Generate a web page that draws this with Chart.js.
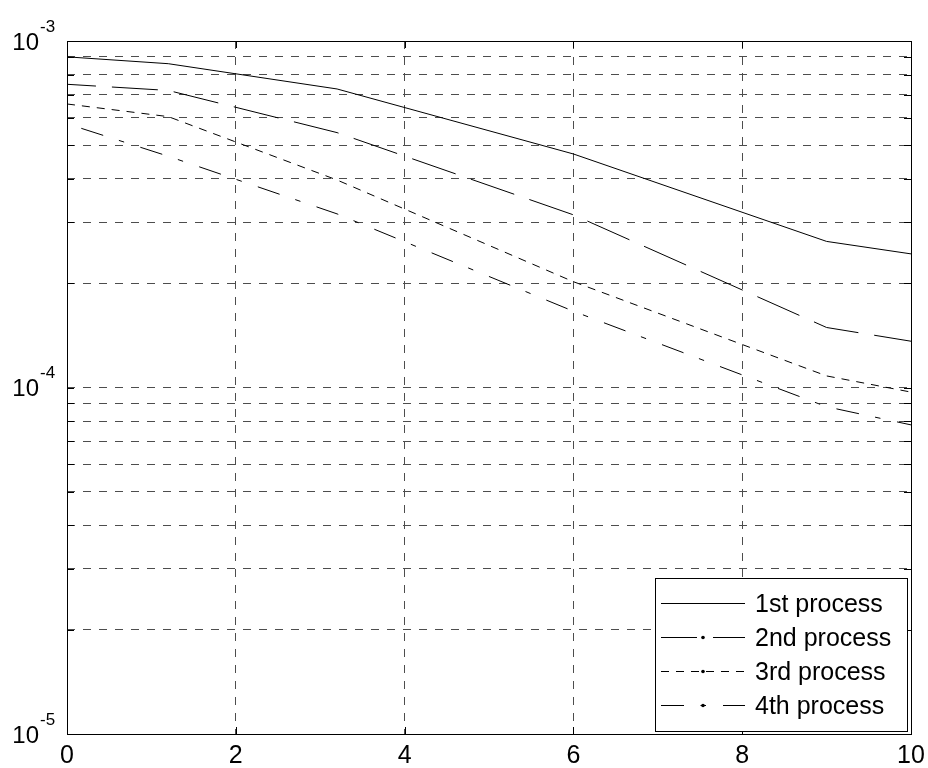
<!DOCTYPE html>
<html>
<head>
<meta charset="utf-8">
<script src="https://cdn.jsdelivr.net/npm/chart.js@4/dist/chart.umd.min.js"></script>
<style>
  html, body { margin: 0; padding: 0; background: #ffffff; }
  canvas { display: block; }
</style>
</head>
<body>
<canvas id="c" width="928" height="768"></canvas>
<script>
// Sample positions along the horizontal axis
const xValues = [0, 1.2, 3.2, 6, 9, 10];

// Error level of each process at those positions
const process1 = [9.0e-4, 8.6e-4, 7.27e-4, 4.72e-4, 2.64e-4, 2.43e-4];
const process2 = [7.5e-4, 7.2e-4, 5.44e-4, 3.15e-4, 1.49e-4, 1.36e-4];
const process3 = [6.58e-4, 6.05e-4, 3.97e-4, 2.02e-4, 1.08e-4, 9.7e-5];
const process4 = [5.77e-4, 4.65e-4, 3.17e-4, 1.66e-4, 8.8e-5, 7.8e-5];

const seriesNames = ['1st process', '2nd process', '3rd process', '4th process'];

// Axis ticks and labels
const xTicks = [0, 2, 4, 6, 8, 10];
const xTickLabels = ['0', '2', '4', '6', '8', '10'];
const yDecades = [-5, -4, -3];
const yTickBase = ['10', '10', '10'];
const yTickExp = ['-5', '-4', '-3'];

// Log grid: 1..9 in every decade, up to the top decade
const yGridValues = [];
for (let d = yDecades[0]; d < yDecades[yDecades.length - 1]; d++) {
  for (let m = 1; m <= 9; m++) yGridValues.push(m * Math.pow(10, d));
}
yGridValues.push(Math.pow(10, yDecades[yDecades.length - 1]));

const FONT = '"Liberation Sans", Arial, Helvetica, sans-serif';

function pts(ys) {
  return xValues.map((x, i) => ({ x: x, y: ys[i] }));
}

// Line style per process; "marker" means a dot in the legend sample
const styles = [
  { dash: [], offset: 0, marker: false },
  { dash: [46, 16], offset: 17, marker: true },
  { dash: [8, 7], offset: 0, marker: true },
  { dash: [23, 16.5, 5.5, 17], offset: 47, marker: true }
];

const datasets = [process1, process2, process3, process4].map((ys, i) => ({
  label: seriesNames[i],
  data: pts(ys),
  borderColor: '#000000',
  backgroundColor: '#000000',
  borderWidth: 1,
  borderDash: styles[i].dash,
  borderDashOffset: styles[i].offset,
  pointRadius: 0,
  tension: 0,
  fill: false
}));

const framePlugin = {
  id: 'frame',
  afterDatasetsDraw(chart) {
    const ctx = chart.ctx;
    const a = chart.chartArea;
    const xs = chart.scales.x, ys = chart.scales.y;
    ctx.save();
    ctx.strokeStyle = '#000000';
    ctx.lineWidth = 1;
    ctx.setLineDash([]);
    // inner tick marks
    const tl = 7;
    ctx.beginPath();
    yGridValues.forEach(v => {
      const py = Math.round(ys.getPixelForValue(v)) + 0.5;
      ctx.moveTo(a.left, py); ctx.lineTo(a.left + tl, py);
      ctx.moveTo(a.right, py); ctx.lineTo(a.right - tl, py);
    });
    xTicks.forEach(v => {
      const px = Math.round(xs.getPixelForValue(v)) + 0.5;
      ctx.moveTo(px, a.bottom); ctx.lineTo(px, a.bottom - tl);
      ctx.moveTo(px, a.top); ctx.lineTo(px, a.top + tl);
    });
    ctx.stroke();
    // axes box
    ctx.strokeRect(Math.round(a.left) + 0.5, Math.round(a.top) + 0.5,
                   Math.round(a.right - a.left), Math.round(a.bottom - a.top));

    // legend box
    const box = { left: 655, top: 578, right: 907, bottom: 731 };
    ctx.fillStyle = '#ffffff';
    ctx.fillRect(box.left, box.top, box.right - box.left, box.bottom - box.top);
    ctx.strokeRect(box.left + 0.5, box.top + 0.5, box.right - box.left, box.bottom - box.top);
    const rowY = [603, 637, 671, 705];
    const sx0 = 661, sx1 = 745, sxm = 703;
    ctx.font = '25px ' + FONT;
    ctx.textAlign = 'left';
    ctx.textBaseline = 'alphabetic';
    chart.data.datasets.forEach((ds, i) => {
      const y = rowY[i] + 0.5;
      ctx.save();
      ctx.setLineDash(ds.borderDash || []);
      ctx.lineDashOffset = i === 1 ? 10 : 0;
      ctx.beginPath();
      ctx.moveTo(sx0, y); ctx.lineTo(sx1, y);
      ctx.stroke();
      ctx.restore();
      if (styles[i].marker) {
        ctx.beginPath();
        ctx.arc(sxm, y, 1.8, 0, Math.PI * 2);
        ctx.fillStyle = '#000000';
        ctx.fill();
      }
      ctx.fillStyle = '#000000';
      ctx.fillText(ds.label, 755, rowY[i] + 9);
    });
    ctx.restore();
  },
  afterDraw(chart) {
    const ctx = chart.ctx;
    const xs = chart.scales.x, ys = chart.scales.y;
    ctx.save();
    ctx.fillStyle = '#000000';
    // x tick labels
    ctx.font = '25px ' + FONT;
    ctx.textAlign = 'center';
    ctx.textBaseline = 'alphabetic';
    xTicks.forEach((v, i) => {
      ctx.fillText(xTickLabels[i], xs.getPixelForValue(v), 763);
    });
    // y tick labels: base with raised exponent
    yDecades.forEach((d, i) => {
      const py = ys.getPixelForValue(Math.pow(10, d));
      ctx.font = '24px ' + FONT;
      ctx.textAlign = 'right';
      ctx.fillText(yTickBase[i], 39, py + 8.5);
      ctx.font = '17px ' + FONT;
      ctx.textAlign = 'left';
      ctx.fillText(yTickExp[i], 40, py - 9.5);
    });
    ctx.restore();
  }
};

new Chart(document.getElementById('c'), {
  type: 'line',
  data: { datasets: datasets },
  options: {
    responsive: false,
    animation: false,
    devicePixelRatio: 1,
    layout: { padding: { left: 67, top: 41, right: 17, bottom: 34 } },
    plugins: { legend: { display: false }, tooltip: { enabled: false } },
    elements: { line: { tension: 0 } },
    scales: {
      x: {
        type: 'linear',
        min: 0, max: 10,
        afterBuildTicks: s => { s.ticks = xTicks.map(v => ({ value: v })); },
        ticks: { display: false },
        grid: { color: '#4d4d4d', lineWidth: 1, drawTicks: false },
        border: { display: false, dash: [8, 8] }
      },
      y: {
        type: 'logarithmic',
        min: 1e-5, max: 1e-3,
        afterBuildTicks: s => { s.ticks = yGridValues.map(v => ({ value: v })); },
        ticks: { display: false },
        grid: { color: '#4d4d4d', lineWidth: 1, drawTicks: false },
        border: { display: false, dash: [8, 8] }
      }
    }
  },
  plugins: [framePlugin]
});
</script>
</body>
</html>
